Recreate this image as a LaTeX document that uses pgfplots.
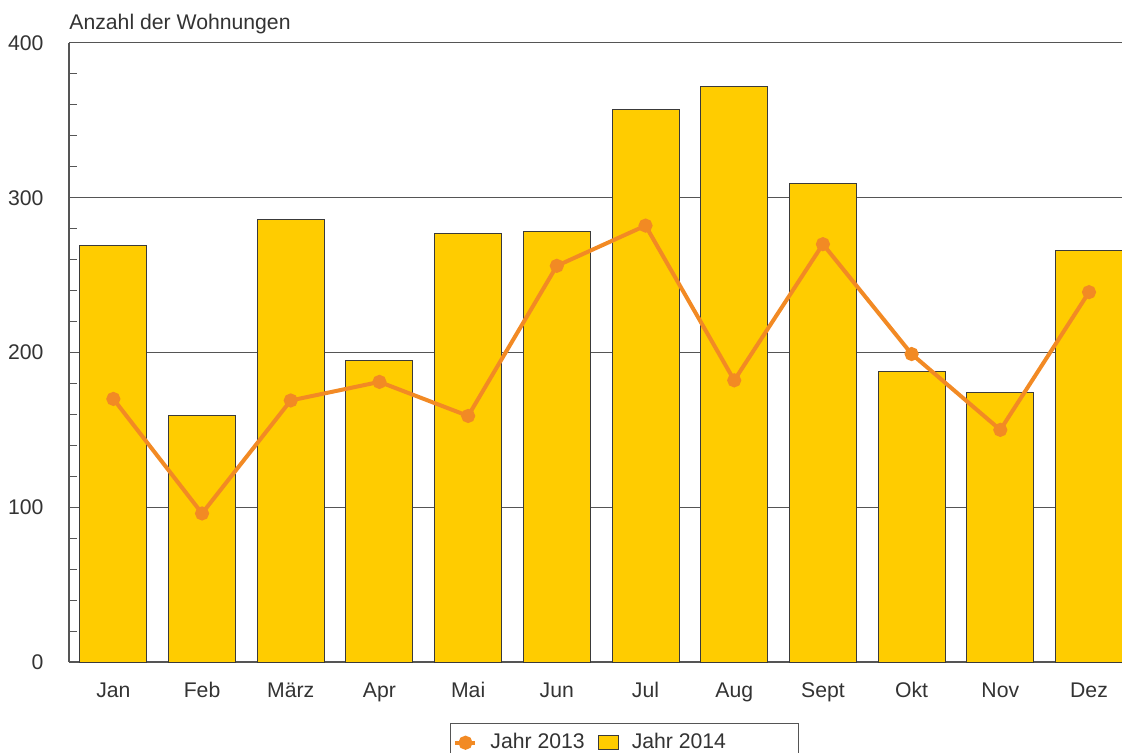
\documentclass[border=0pt]{standalone}
\usepackage{fontspec}
\setmainfont{Liberation Sans}
\usepackage{pgfplots}
\pgfplotsset{compat=1.18}
\definecolor{baryellow}{HTML}{FFCC00}
\definecolor{barborder}{HTML}{3A3A3A}
\definecolor{lineorange}{HTML}{F28A24}
\definecolor{txt}{HTML}{333333}
\definecolor{axisgray}{HTML}{555555}
\pgfplotsset{
  myline legend/.style={legend image code/.code={\draw[mark repeat=2,mark phase=2,##1] plot coordinates {(0pt,0pt)(5pt,0pt)(10pt,0pt)};}},
  mybar legend/.style={legend image code/.code={\draw[##1] (0pt,-3.5pt) rectangle (10pt,3.5pt);}},
}
\begin{document}
\fontsize{10.6}{12.7}\selectfont
\begin{tikzpicture}
\begin{axis}[
  name=ax,
  scale only axis, width=526.5pt, height=309.5pt,
  xmin=-0.5, xmax=11.372, ymin=0, ymax=400,
  axis lines*=left,
  /pgf/number format/assume math mode=true,
  xtick={0,...,11},
  xticklabels={Jan,Feb,März,Apr,Mai,Jun,Jul,Aug,Sept,Okt,Nov,Dez},
  xtick style={draw=none},
  ytick={0,100,...,400},
  minor y tick num=4,
  ymajorgrids,
  grid style={axisgray, line width=0.5pt},
  tick align=inside,
  major tick length=7.5pt, minor tick length=4pt,
  tick style={axisgray, line width=0.5pt},
  axis line style={axisgray, line width=0.8pt},
  tick label style={font=\fontsize{10.6}{12.7}\selectfont, text=txt},
  yticklabel style={xshift=-9pt},
  xticklabel style={yshift=-6.5pt},
  legend columns=2,
  legend style={at={(0.3618,-0.0985)}, anchor=north west, draw=axisgray, line width=0.5pt,
    font=\fontsize{10.6}{12.7}\selectfont, text=txt,
    inner xsep=1.5pt, inner ysep=3pt,
    /tikz/every odd column/.append style={column sep=4.5pt},
    /tikz/every even column/.append style={column sep=4.5pt}},
  legend cell align=left,
]
\addlegendimage{lineorange, line width=2pt, mark=*, mark size=2.5pt, mark options={solid, draw=none, fill=lineorange}, myline legend}
\addlegendentry{Jahr 2013}
\addplot[ybar, bar width=0.755, fill=baryellow, draw=barborder, line width=0.5pt, mybar legend]
  coordinates {(0,269) (1,159) (2,286) (3,195) (4,277) (5,278) (6,357) (7,372) (8,309) (9,188) (10,174) (11,266)};
\addlegendentry{\makebox[80pt][l]{Jahr 2014}}
\addplot[lineorange, line width=2pt, mark=*, mark size=2.5pt, mark options={solid, draw=none, fill=lineorange}, forget plot]
  coordinates {(0,170) (1,96) (2,169) (3,181) (4,159) (5,256) (6,282) (7,182) (8,270) (9,199) (10,150) (11,239)};
\end{axis}
\node[anchor=base west, text=txt, inner sep=0pt] at ([yshift=6.5pt]ax.north west) {Anzahl der Wohnungen};
\pgfresetboundingbox
\path ([shift={(-34.5pt,-45.5pt)}]ax.south west) rectangle ([shift={(0pt,21.5pt)}]ax.north east);
\end{tikzpicture}
\end{document}
